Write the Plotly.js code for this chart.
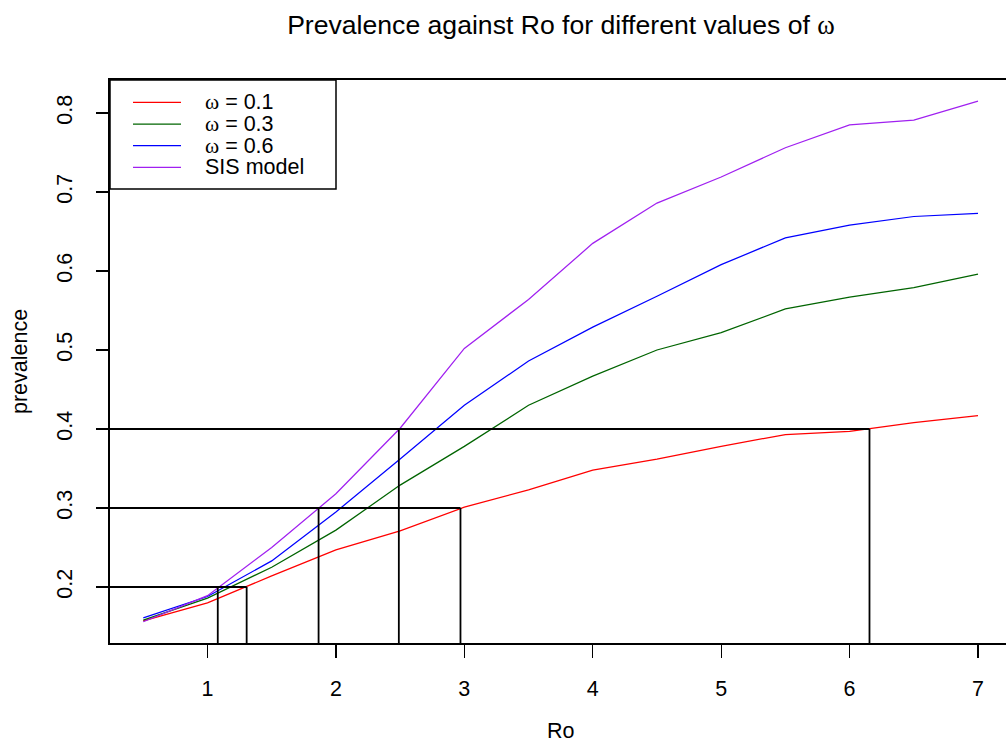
<!DOCTYPE html>
<html>
<head>
<meta charset="utf-8">
<script src="https://cdn.plot.ly/plotly-3.0.1.min.js"></script>
<style>html,body{margin:0;padding:0;background:#fff;}#chart{width:1006px;height:744px;}</style>
</head>
<body>
<div id="chart"></div>
<script>
// ---- data ----
const ro = [0.5, 1, 1.5, 2, 2.5, 3, 3.5, 4, 4.5, 5, 5.5, 6, 6.5, 7];
const prevOmega01 = [0.157, 0.180, 0.214, 0.247, 0.271, 0.301, 0.323, 0.348, 0.362, 0.378, 0.393, 0.397, 0.408, 0.417];
const prevOmega03 = [0.158, 0.186, 0.225, 0.272, 0.329, 0.378, 0.430, 0.467, 0.500, 0.522, 0.552, 0.567, 0.579, 0.596];
const prevOmega06 = [0.161, 0.188, 0.233, 0.295, 0.362, 0.430, 0.486, 0.529, 0.568, 0.608, 0.642, 0.658, 0.669, 0.673];
const prevSIS     = [0.156, 0.189, 0.250, 0.318, 0.401, 0.502, 0.564, 0.635, 0.686, 0.719, 0.756, 0.785, 0.791, 0.815];
const seriesNames = ['ω = 0.1', 'ω = 0.3', 'ω = 0.6', 'SIS model'];
const seriesColors = ['#FF0000', '#006400', '#0000FF', '#A020F0'];

// reference levels and the Ro values where curves reach them
const levels = [0.2, 0.3, 0.4];
const roSISAtLevel = [1.08, 1.865, 2.49];
const roOmega01AtLevel = [1.305, 2.97, 6.155];

const xTicks = [1, 2, 3, 4, 5, 6, 7];
const yTicks = [0.2, 0.3, 0.4, 0.5, 0.6, 0.7, 0.8];
const xTitle = 'Ro';
const yTitle = 'prevalence';

const FONT = 'Liberation Sans, Arial, Helvetica, sans-serif';
const SERIF = "Liberation Serif, 'Times New Roman', serif";
const BASE = 21.5;

const allSeries = [prevOmega01, prevOmega03, prevOmega06, prevSIS];
const traces = allSeries.map((ys, i) => ({
  x: ro, y: ys, type: 'scatter', mode: 'lines', name: seriesNames[i],
  line: {color: seriesColors[i], width: 1.25}, showlegend: false, hoverinfo: 'x+y'
}));

// guide segments (clipped to plot area by the axes)
const segX = [], segY = [];
levels.forEach((lv, i) => {
  segX.push(0, roOmega01AtLevel[i], null); segY.push(lv, lv, null);
  segX.push(roSISAtLevel[i], roSISAtLevel[i], null); segY.push(0, lv, null);
  segX.push(roOmega01AtLevel[i], roOmega01AtLevel[i], null); segY.push(0, lv, null);
});
traces.push({x: segX, y: segY, type: 'scatter', mode: 'lines', showlegend: false,
  line: {color: '#000', width: 1.8}, hoverinfo: 'skip', connectgaps: false});

// manual legend in R style (paper coordinates of the plot area)
const plotL = 110, plotR = 1006, plotT = 80, plotB = 643;
const pw = plotR - plotL, ph = plotB - plotT;
const px = v => (v - plotL) / pw;
const py = v => (plotB - v) / ph;
const shapes = [{type: 'rect', xref: 'paper', yref: 'paper', x0: 0, x1: px(336), y0: py(189), y1: 1,
  line: {color: '#000', width: 1.5}, fillcolor: '#fff', layer: 'above'}];
const annotations = [];
seriesNames.forEach((nm, i) => {
  const rowY = 102.3 + i * 21.7;
  shapes.push({type: 'line', xref: 'paper', yref: 'paper', x0: px(133), x1: px(181), y0: py(rowY), y1: py(rowY),
    line: {color: seriesColors[i], width: 1.25}, layer: 'above'});
  const label = nm.replace('ω', '<span style="font-family:' + SERIF + '">ω</span>');
  annotations.push({xref: 'paper', yref: 'paper', x: px(204), y: py(rowY), xanchor: 'left', yanchor: 'middle',
    text: label, showarrow: false, borderpad: 0,
    font: {family: FONT, size: BASE, color: '#000'}});
});
// axis titles, placed like R's mtext line 3
annotations.push({xref: 'paper', yref: 'paper', x: px(560.5), y: py(731), xanchor: 'center', yanchor: 'middle',
  text: xTitle, showarrow: false, font: {family: FONT, size: BASE, color: '#000'}});
annotations.push({xref: 'paper', yref: 'paper', x: px(19.5), y: py(361.5), xanchor: 'center', yanchor: 'middle',
  text: yTitle, textangle: -90, showarrow: false, font: {family: FONT, size: BASE, color: '#000'}});

const layout = {
  width: 1006, height: 744, autosize: false,
  paper_bgcolor: '#fff', plot_bgcolor: '#fff',
  margin: {l: plotL, r: 1006 - plotR, t: plotT, b: 744 - plotB, pad: 0},
  font: {family: FONT, color: '#000', size: BASE},
  title: {text: 'Prevalence against Ro for different values of <span style="font-family:' + SERIF + '">ω</span>',
    font: {family: FONT, size: 26.6, color: '#000'}, xref: 'container', x: 561 / 1006, xanchor: 'center',
    yref: 'container', y: 1 - 25 / 744, yanchor: 'middle'},
  showlegend: false,
  xaxis: {range: [0.2408, 7.218], tickvals: xTicks, ticktext: xTicks.map(String), ticks: 'outside', ticklen: 13,
    tickwidth: 1.2, tickcolor: '#000', showline: true, linecolor: '#000', linewidth: 1.6, mirror: true,
    showgrid: false, zeroline: false, tickfont: {family: FONT, size: BASE, color: '#000'}, ticklabelstandoff: 13,
    automargin: false},
  yaxis: {range: [0.1291, 0.8418], tickvals: yTicks, ticktext: yTicks.map(v => v.toFixed(1)), ticks: 'outside', ticklen: 12,
    tickwidth: 1.2, tickcolor: '#000', showline: true, linecolor: '#000', linewidth: 1.6, mirror: false,
    showgrid: false, zeroline: false, tickangle: -90, tickfont: {family: FONT, size: BASE, color: '#000'}, ticklabelstandoff: 16,
    automargin: false},
  shapes: shapes, annotations: annotations
};

Plotly.newPlot('chart', traces, layout, {displayModeBar: false, staticPlot: true});
</script>
</body>
</html>
